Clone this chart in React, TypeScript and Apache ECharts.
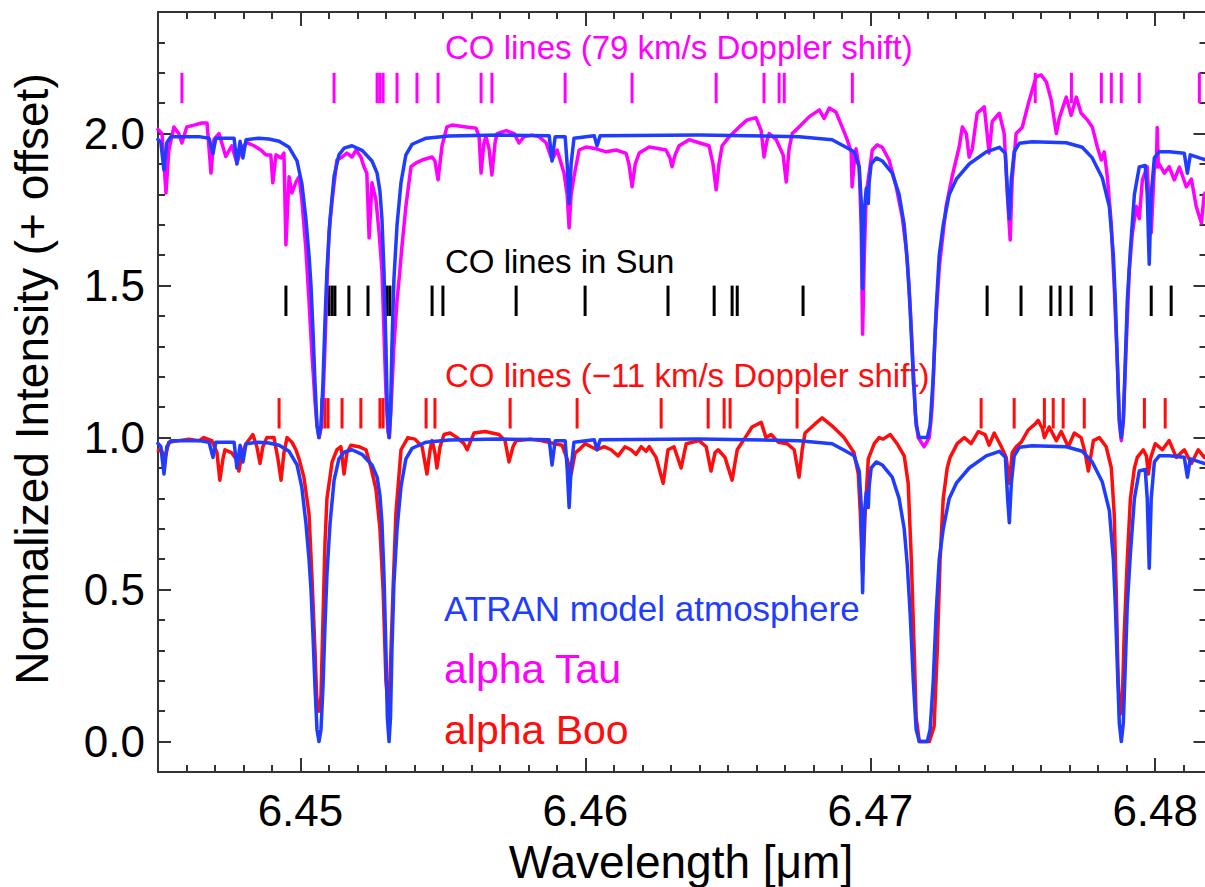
import React, { useEffect, useRef } from 'react';
import * as echarts from 'echarts';

// ---------- axis ranges & ticks ----------
const X_MIN = 6.445;
const X_MAX = 6.4818;
const Y_MIN = -0.1;
const Y_MAX = 2.4;
const X_MAJOR = [6.45, 6.46, 6.47, 6.48];
const X_MINOR: number[] = [];
for (let i = 446; i <= 481; i++) if (i % 10 !== 0) X_MINOR.push(6 + i / 1000);
const Y_MAJOR = [0, 0.5, 1.0, 1.5, 2.0];
const Y_MINOR: number[] = [];
for (let i = 1; i <= 23; i++) if (i % 5 !== 0) Y_MINOR.push(i / 10);

// vertical offset applied to the alpha Tau spectrum and its ATRAN copy
const OFFSET = 1;

// ---------- ATRAN model atmosphere (normalized) ----------
const ATRAN: [number, number][] = [
  [6.44496,0.985],[6.44510,0.97],[6.44521,0.88],[6.44531,0.97],[6.44545,0.99],[6.44644,0.99],[6.44679,0.985],[6.44693,0.935],[6.44703,0.985],[6.44767,0.985],[6.44777,0.90],[6.44788,0.975],[6.44798,0.92],[6.44809,0.98],[6.44854,0.985],[6.44889,0.982],[6.44925,0.975],[6.44960,0.955],[6.44988,0.91],[6.45005,0.835],[6.45019,0.72],[6.45030,0.60],[6.45037,0.50],[6.45044,0.35],[6.45051,0.18],[6.45058,0.04],[6.45065,0.0],[6.45072,0.04],[6.45079,0.18],[6.45086,0.38],[6.45093,0.55],[6.45104,0.72],[6.45118,0.86],[6.45135,0.93],[6.45153,0.952],[6.45181,0.96],[6.45216,0.945],[6.45251,0.91],[6.45269,0.87],[6.45279,0.81],[6.45286,0.72],[6.45293,0.55],[6.45300,0.30],[6.45305,0.08],[6.45311,0.0],[6.45316,0.08],[6.45321,0.30],[6.45328,0.52],[6.45339,0.70],[6.45353,0.84],[6.45370,0.93],[6.45392,0.965],[6.45441,0.985],[6.45521,0.992],[6.45697,0.995],[6.45873,0.993],[6.45883,0.91],[6.45894,0.99],[6.45929,0.99],[6.45936,0.90],[6.45943,0.77],[6.45950,0.90],[6.45960,0.985],[6.46031,0.993],[6.46041,0.96],[6.46052,0.993],[6.46399,0.995],[6.46750,0.99],[6.46866,0.98],[6.46915,0.955],[6.46943,0.94],[6.46961,0.89],[6.46968,0.78],[6.46973,0.49],[6.46979,0.75],[6.46986,0.82],[6.46993,0.77],[6.46996,0.84],[6.47003,0.90],[6.47021,0.92],[6.47042,0.91],[6.47077,0.87],[6.47101,0.80],[6.47119,0.70],[6.47130,0.58],[6.47140,0.42],[6.47151,0.20],[6.47161,0.04],[6.47172,0.0],[6.47200,0.0],[6.47210,0.04],[6.47221,0.20],[6.47231,0.42],[6.47242,0.60],[6.47256,0.70],[6.47277,0.80],[6.47302,0.85],[6.47347,0.90],[6.47407,0.94],[6.47453,0.955],[6.47474,0.935],[6.47482,0.80],[6.47488,0.72],[6.47495,0.85],[6.47505,0.94],[6.47523,0.968],[6.47568,0.973],[6.47688,0.97],[6.47744,0.955],[6.47779,0.92],[6.47814,0.855],[6.47839,0.76],[6.47853,0.60],[6.47860,0.45],[6.47867,0.25],[6.47874,0.06],[6.47881,0.0],[6.47888,0.06],[6.47895,0.25],[6.47902,0.45],[6.47913,0.62],[6.47927,0.80],[6.47944,0.89],[6.47965,0.895],[6.47972,0.80],[6.47979,0.57],[6.47986,0.80],[6.47997,0.92],[6.48014,0.94],[6.48049,0.94],[6.48102,0.935],[6.48113,0.87],[6.48123,0.93],[6.48155,0.92],[6.48190,0.91]
];

// ---------- alpha Tau (normalized, drawn with +OFFSET) ----------
const ALPHA_TAU: [number, number][] = [
  [6.44496,1.018],[6.44514,1.0],[6.44528,0.805],[6.44538,0.946],[6.44556,1.022],[6.44573,1.0],[6.44584,0.969],[6.44601,1.022],[6.44626,1.028],[6.44654,1.035],[6.44672,1.035],[6.44686,0.87],[6.44696,0.98],[6.44714,1.0],[6.44738,0.925],[6.44759,0.96],[6.44777,0.904],[6.44795,0.955],[6.44812,0.97],[6.44837,0.96],[6.44861,0.946],[6.44879,0.93],[6.44896,0.93],[6.44903,0.838],[6.44914,0.93],[6.44932,0.92],[6.44942,0.936],[6.44949,0.634],[6.44960,0.858],[6.44970,0.805],[6.44984,0.84],[6.44995,0.858],[6.45005,0.78],[6.45019,0.62],[6.45030,0.45],[6.45040,0.28],[6.45051,0.12],[6.45058,0.04],[6.45065,0.0],[6.45072,0.03],[6.45079,0.12],[6.45086,0.30],[6.45093,0.50],[6.45100,0.674],[6.45111,0.78],[6.45128,0.913],[6.45146,0.923],[6.45163,0.936],[6.45181,0.923],[6.45195,0.946],[6.45212,0.923],[6.45223,0.891],[6.45233,0.87],[6.45241,0.657],[6.45251,0.838],[6.45265,0.782],[6.45276,0.674],[6.45286,0.55],[6.45293,0.35],[6.45300,0.15],[6.45307,0.02],[6.45312,0.0],[6.45318,0.1],[6.45328,0.30],[6.45339,0.45],[6.45349,0.55],[6.45356,0.627],[6.45370,0.76],[6.45388,0.891],[6.45406,0.904],[6.45427,0.913],[6.45462,0.923],[6.45472,0.91],[6.45483,0.848],[6.45497,0.96],[6.45514,1.022],[6.45532,1.028],[6.45581,1.022],[6.45616,1.018],[6.45627,0.99],[6.45634,0.87],[6.45644,0.97],[6.45651,0.99],[6.45662,0.95],[6.45672,0.864],[6.45683,0.97],[6.45690,1.0],[6.45722,1.01],[6.45750,1.0],[6.45767,0.969],[6.45785,0.99],[6.45813,0.995],[6.45837,0.99],[6.45862,0.97],[6.45883,0.913],[6.45901,0.946],[6.45925,0.87],[6.45936,0.80],[6.45943,0.69],[6.45950,0.80],[6.45960,0.858],[6.45978,0.946],[6.46002,0.956],[6.46038,0.95],[6.46073,0.94],[6.46108,0.946],[6.46143,0.935],[6.46153,0.90],[6.46164,0.825],[6.46175,0.90],[6.46189,0.936],[6.46224,0.956],[6.46259,0.95],[6.46283,0.946],[6.46297,0.92],[6.46304,0.891],[6.46315,0.93],[6.46329,0.96],[6.46364,0.98],[6.46399,0.97],[6.46434,0.96],[6.46448,0.90],[6.46459,0.815],[6.46469,0.90],[6.46480,0.96],[6.46505,0.99],[6.46540,1.022],[6.46568,1.045],[6.46599,1.052],[6.46617,1.01],[6.46627,0.923],[6.46638,0.98],[6.46645,1.0],[6.46670,0.98],[6.46694,0.93],[6.46705,0.841],[6.46715,0.95],[6.46726,1.0],[6.46750,1.022],[6.46785,1.055],[6.46821,1.078],[6.46838,1.05],[6.46856,1.084],[6.46880,1.07],[6.46901,1.022],[6.46919,0.98],[6.46933,0.94],[6.46936,0.825],[6.46943,0.90],[6.46950,0.95],[6.46961,0.89],[6.46968,0.70],[6.46973,0.34],[6.46979,0.60],[6.46986,0.805],[6.46996,0.87],[6.47007,0.946],[6.47024,0.963],[6.47042,0.955],[6.47066,0.913],[6.47091,0.825],[6.47112,0.726],[6.47126,0.62],[6.47136,0.50],[6.47147,0.30],[6.47158,0.08],[6.47168,0.0],[6.47189,-0.03],[6.47207,0.0],[6.47217,0.10],[6.47228,0.35],[6.47242,0.56],[6.47266,0.76],[6.47287,0.858],[6.47312,0.956],[6.47323,1.022],[6.47337,1.0],[6.47347,0.923],[6.47358,0.95],[6.47375,1.067],[6.47400,1.088],[6.47410,1.0],[6.47417,0.936],[6.47428,1.04],[6.47453,1.067],[6.47470,1.0],[6.47481,0.80],[6.47491,0.65],[6.47498,0.85],[6.47512,1.0],[6.47533,1.02],[6.47558,1.11],[6.47582,1.187],[6.47600,1.193],[6.47618,1.17],[6.47635,1.11],[6.47653,1.0],[6.47663,1.05],[6.47688,1.12],[6.47705,1.06],[6.47723,1.12],[6.47740,1.067],[6.47762,1.045],[6.47779,1.022],[6.47797,0.956],[6.47811,0.913],[6.47821,0.94],[6.47832,0.858],[6.47846,0.70],[6.47856,0.50],[6.47867,0.25],[6.47874,0.05],[6.47881,-0.01],[6.47888,0.05],[6.47898,0.30],[6.47909,0.55],[6.47920,0.674],[6.47934,0.76],[6.47944,0.72],[6.47955,0.848],[6.47972,0.891],[6.47979,0.75],[6.47986,0.674],[6.47997,0.891],[6.48004,0.89],[6.48007,1.02],[6.48011,0.89],[6.48014,0.90],[6.48032,0.87],[6.48049,0.891],[6.48067,0.848],[6.48085,0.89],[6.48109,0.825],[6.48127,0.85],[6.48144,0.76],[6.48162,0.706],[6.48172,0.80],[6.48190,0.82]
];

// ---------- alpha Boo (normalized) ----------
const ALPHA_BOO: [number, number][] = [
  [6.44496,0.96],[6.44514,0.955],[6.44524,0.93],[6.44538,0.985],[6.44573,0.99],[6.44608,0.995],[6.44644,0.99],[6.44661,1.0],[6.44689,0.99],[6.44707,0.95],[6.44717,0.86],[6.44728,0.93],[6.44735,0.96],[6.44759,0.95],[6.44774,0.93],[6.44784,0.89],[6.44795,0.95],[6.44809,0.98],[6.44833,1.01],[6.44847,0.97],[6.44858,0.915],[6.44868,0.97],[6.44882,1.0],[6.44907,1.0],[6.44921,0.93],[6.44932,0.86],[6.44942,0.95],[6.44953,1.0],[6.44970,0.985],[6.44984,0.96],[6.44995,0.93],[6.45012,0.87],[6.45030,0.75],[6.45040,0.55],[6.45051,0.30],[6.45058,0.12],[6.45065,0.10],[6.45072,0.15],[6.45079,0.40],[6.45086,0.65],[6.45093,0.80],[6.45111,0.92],[6.45128,0.96],[6.45142,0.97],[6.45153,0.88],[6.45163,0.95],[6.45177,0.975],[6.45205,0.97],[6.45230,0.96],[6.45248,0.90],[6.45265,0.83],[6.45279,0.70],[6.45290,0.50],[6.45300,0.20],[6.45307,0.12],[6.45314,0.20],[6.45325,0.50],[6.45335,0.75],[6.45353,0.96],[6.45377,1.0],[6.45402,0.995],[6.45427,0.97],[6.45444,0.88],[6.45455,0.96],[6.45462,0.99],[6.45472,0.95],[6.45479,0.90],[6.45490,0.97],[6.45504,1.01],[6.45525,1.015],[6.45550,1.0],[6.45574,0.98],[6.45585,0.96],[6.45609,1.015],[6.45648,1.02],[6.45697,1.01],[6.45718,0.99],[6.45732,0.92],[6.45746,0.97],[6.45757,0.99],[6.45806,0.995],[6.45844,0.99],[6.45894,0.98],[6.45918,0.975],[6.45936,0.93],[6.45950,0.88],[6.45964,0.95],[6.45978,0.96],[6.45999,0.98],[6.46020,0.97],[6.46041,0.96],[6.46066,0.97],[6.46090,0.96],[6.46115,0.94],[6.46139,0.97],[6.46160,0.96],[6.46178,0.945],[6.46196,0.97],[6.46213,0.955],[6.46224,0.97],[6.46248,0.935],[6.46273,0.85],[6.46290,0.96],[6.46311,0.97],[6.46336,0.90],[6.46354,0.98],[6.46399,0.99],[6.46424,0.97],[6.46441,0.89],[6.46455,0.95],[6.46466,0.96],[6.46490,0.935],[6.46515,0.86],[6.46533,0.96],[6.46561,1.0],[6.46585,1.035],[6.46617,1.05],[6.46634,1.0],[6.46652,1.01],[6.46677,0.985],[6.46708,0.98],[6.46733,0.96],[6.46750,0.87],[6.46761,0.96],[6.46771,1.015],[6.46806,1.045],[6.46831,1.065],[6.46870,1.035],[6.46908,1.0],[6.46943,0.95],[6.46958,0.88],[6.46965,0.75],[6.46973,0.55],[6.46982,0.75],[6.46993,0.93],[6.47014,0.98],[6.47031,1.0],[6.47045,0.995],[6.47070,1.01],[6.47094,0.98],[6.47119,0.94],[6.47133,0.85],[6.47144,0.60],[6.47154,0.30],[6.47161,0.08],[6.47172,0.0],[6.47207,0.0],[6.47224,0.05],[6.47235,0.30],[6.47245,0.60],[6.47256,0.80],[6.47270,0.90],[6.47280,0.935],[6.47305,0.98],[6.47330,1.0],[6.47354,0.98],[6.47379,1.02],[6.47403,1.01],[6.47417,0.975],[6.47435,1.015],[6.47460,0.97],[6.47477,0.935],[6.47488,0.85],[6.47498,0.95],[6.47512,0.97],[6.47530,0.985],[6.47554,1.025],[6.47579,1.045],[6.47589,1.057],[6.47604,1.03],[6.47611,1.0],[6.47628,1.035],[6.47653,0.99],[6.47670,1.02],[6.47695,0.97],[6.47716,1.015],[6.47740,1.0],[6.47754,0.95],[6.47765,0.89],[6.47776,0.95],[6.47783,0.99],[6.47804,1.0],[6.47828,0.97],[6.47846,0.90],[6.47856,0.75],[6.47863,0.50],[6.47870,0.20],[6.47877,0.09],[6.47884,0.12],[6.47891,0.35],[6.47902,0.60],[6.47913,0.80],[6.47927,0.90],[6.47937,0.935],[6.47958,0.96],[6.47969,0.94],[6.47976,0.88],[6.47983,0.93],[6.48000,0.98],[6.48025,0.96],[6.48049,0.99],[6.48074,0.935],[6.48102,0.96],[6.48127,0.915],[6.48151,0.96],[6.48172,0.935],[6.48190,0.95]
];

// ---------- CO line positions (µm) ----------
const CO_TAU_SHIFTED = [6.44584,6.45118,6.45269,6.45279,6.45290,6.45339,6.45409,6.45483,6.45634,6.45672,6.45929,6.46164,6.46459,6.46627,6.46680,6.46698,6.46937,6.47579,6.47706,6.47811,6.47846,6.47881,6.47944,6.48155];
const CO_SUN = [6.44949,6.45100,6.45111,6.45121,6.45170,6.45237,6.45304,6.45314,6.45462,6.45500,6.45757,6.45999,6.46290,6.46452,6.46515,6.46533,6.46764,6.47410,6.47529,6.47634,6.47666,6.47705,6.47775,6.47986,6.48056];
const CO_BOO_SHIFTED = [6.44925,6.45075,6.45086,6.45097,6.45146,6.45212,6.45279,6.45290,6.45441,6.45472,6.45736,6.45971,6.46266,6.46431,6.46487,6.46508,6.46743,6.47389,6.47505,6.47611,6.47642,6.47677,6.47751,6.47962,6.48035];
// row extents (data units) of the tick-mark rows
const TAU_ROW = [2.1, 2.2];
const SUN_ROW = [1.4, 1.5];
const BOO_ROW = [1.03, 1.13];

// ---------- labels ----------
const LABEL_TAU_LINES = 'CO lines (79 km/s Doppler shift)';
const LABEL_SUN_LINES = 'CO lines in Sun';
const LABEL_BOO_LINES = 'CO lines (\u221211 km/s Doppler shift)';
const LEGEND_ATRAN = 'ATRAN model atmosphere';
const LEGEND_TAU = 'alpha Tau';
const LEGEND_BOO = 'alpha Boo';
const X_TITLE = 'Wavelength [\u03bcm]';
const Y_TITLE = 'Normalized Intensity (+ offset)';

const MAGENTA = '#ff00ff';
const BLUE = '#1f3cff';
const RED = '#ff0d0d';
const AXIS_COLOR = '#333333';
const FONT = '"Liberation Sans", Arial, Helvetica, sans-serif';

function markSeries(lines: number[], row: number[], color: string) {
  return {
    type: 'custom',
    xAxisIndex: 0,
    yAxisIndex: 0,
    silent: true,
    data: lines.map((l) => [l, row[0], row[1]]),
    renderItem: (_p: any, api: any) => {
      const a = api.coord([api.value(0), api.value(1)]);
      const b = api.coord([api.value(0), api.value(2)]);
      return {
        type: 'line',
        shape: { x1: a[0], y1: a[1], x2: b[0], y2: b[1] },
        style: { stroke: color, lineWidth: 3 },
      };
    },
  };
}

function lineSeries(data: [number, number][], offset: number, color: string, z: number) {
  return {
    type: 'line',
    xAxisIndex: 0,
    yAxisIndex: 0,
    silent: true,
    symbol: 'none',
    z,
    data: data.map(([x, v]) => [x, v + offset]),
    lineStyle: { color, width: 3.5, join: 'round' },
  };
}

const tickStyle = { color: AXIS_COLOR, width: 2 };

function xAx(position: string, major: boolean, labels: boolean) {
  return {
    type: 'value',
    position,
    min: X_MIN,
    max: X_MAX,
    splitLine: { show: false },
    axisLine: { show: major, onZero: false, lineStyle: { color: AXIS_COLOR, width: 2 } },
    axisTick: { show: true, inside: true, length: major ? 14 : 7, customValues: major ? X_MAJOR : X_MINOR, lineStyle: tickStyle },
    axisLabel: labels
      ? { show: true, customValues: X_MAJOR, formatter: (v: number) => v.toFixed(2), fontSize: 44, color: '#000', margin: 16, fontFamily: FONT }
      : { show: false },
  };
}

function yAx(position: string, major: boolean, labels: boolean) {
  return {
    type: 'value',
    position,
    min: Y_MIN,
    max: Y_MAX,
    splitLine: { show: false },
    axisLine: { show: major, onZero: false, lineStyle: { color: AXIS_COLOR, width: 2 } },
    axisTick: { show: true, inside: true, length: major ? 13 : 7, customValues: major ? Y_MAJOR : Y_MINOR, lineStyle: tickStyle },
    axisLabel: labels
      ? { show: true, customValues: Y_MAJOR, formatter: (v: number) => v.toFixed(1), fontSize: 44, color: '#000', margin: 13, fontFamily: FONT }
      : { show: false },
  };
}

function txt(text: string, x: number, y: number, size: number, color: string, align = 'left', rotation = 0) {
  return {
    type: 'text',
    x,
    y,
    rotation,
    silent: true,
    style: {
      text,
      fill: color,
      fontSize: size,
      fontFamily: FONT,
      align,
      verticalAlign: 'middle',
      textAlign: align,
      textVerticalAlign: 'middle',
    },
  };
}

export default function App() {
  const ref = useRef<HTMLDivElement>(null);
  useEffect(() => {
    const chart = echarts.init(ref.current!, null, { renderer: 'svg' });
    const option: any = {
      animation: false,
      backgroundColor: '#ffffff',
      textStyle: { fontFamily: FONT },
      grid: { left: 158, right: 8.5, top: 12, bottom: 115, containLabel: false },
      xAxis: [xAx('bottom', true, true), xAx('bottom', false, false), xAx('top', true, false), xAx('top', false, false)],
      yAxis: [yAx('left', true, true), yAx('left', false, false), yAx('right', true, false), yAx('right', false, false)],
      series: [
        lineSeries(ALPHA_TAU, OFFSET, MAGENTA, 2),
        lineSeries(ATRAN, OFFSET, BLUE, 3),
        lineSeries(ALPHA_BOO, 0, RED, 2),
        lineSeries(ATRAN, 0, BLUE, 3),
        markSeries(CO_TAU_SHIFTED, TAU_ROW, MAGENTA),
        markSeries(CO_SUN, SUN_ROW, '#000000'),
        markSeries(CO_BOO_SHIFTED, BOO_ROW, RED),
      ],
      graphic: [
        txt(LABEL_TAU_LINES, 445, 47, 33, MAGENTA),
        txt(LABEL_SUN_LINES, 445, 261, 33, '#000000'),
        txt(LABEL_BOO_LINES, 445, 375, 33, RED),
        txt(LEGEND_ATRAN, 444, 608, 35, BLUE),
        txt(LEGEND_TAU, 444, 669, 41, MAGENTA),
        txt(LEGEND_BOO, 444, 730, 41, RED),
        txt(X_TITLE, 681, 862, 46, '#000000', 'center'),
        txt(Y_TITLE, 32, 379, 46, '#000000', 'center', Math.PI / 2),
      ],
    };
    chart.setOption(option);
    return () => chart.dispose();
  }, []);
  return (
    <div style={{ position: 'fixed', left: 0, top: 0, width: 1205, height: 887, overflow: 'hidden', background: '#fff' }}>
      <div ref={ref} style={{ width: 1215, height: 887 }} />
    </div>
  );
}
